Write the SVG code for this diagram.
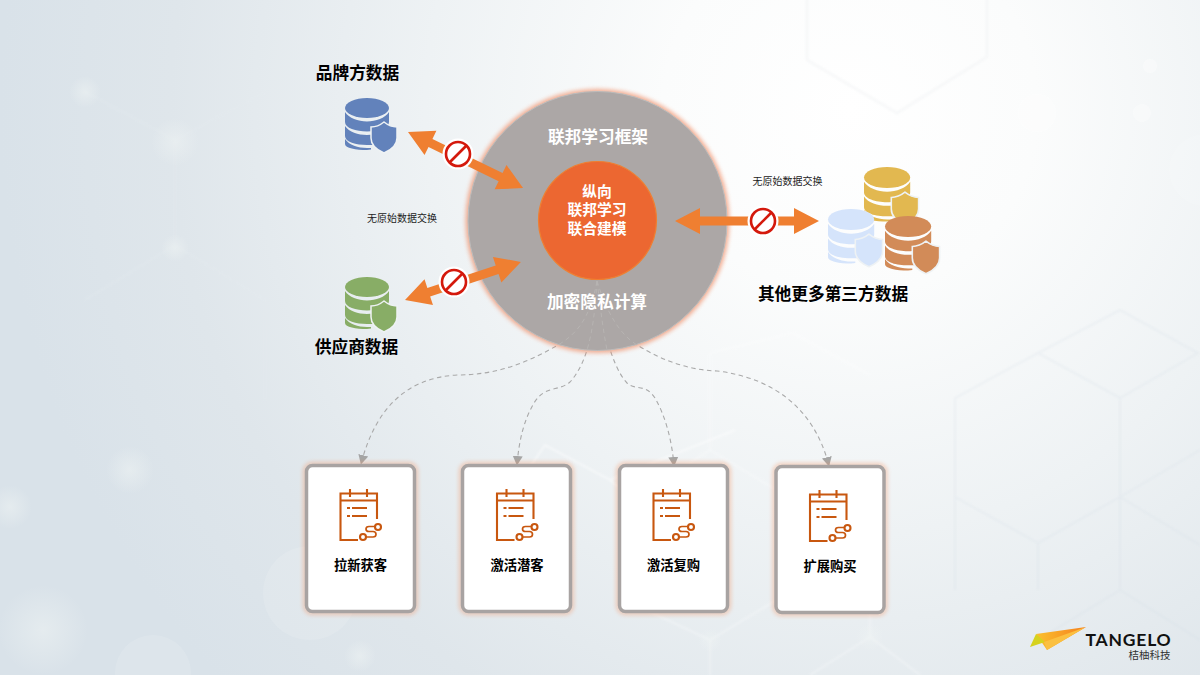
<svg xmlns="http://www.w3.org/2000/svg" width="1200" height="675" viewBox="0 0 1200 675">
<style>
text{font-family:"Liberation Sans","Noto Sans CJK SC",sans-serif;font-weight:700;text-anchor:middle;dominant-baseline:central}
.t17{font-size:16.7px;fill:#000}
.w17{font-size:16.7px;fill:#fff}
.w15{font-size:14.8px;fill:#fff}
.s10{font-size:10px;fill:#222;font-weight:400}
.c13{font-size:13.3px;fill:#000}
.conn{fill:none;stroke:#a9a9a9;stroke-width:1.1;stroke-dasharray:4.5 3.5;marker-end:url(#tip)}
.ic{fill:none;stroke:#c8570f;stroke-width:2.1}
.card{fill:#fff;stroke:#a8a3a2;stroke-width:3.5}
.glow{fill:none;stroke:#f58a55;stroke-width:3.5;opacity:.45;filter:url(#b2)}
.hw{fill:none;stroke:#fff;stroke-width:2;opacity:.28;filter:url(#b1)}
.hb{fill:none;stroke:#cfd9e3;stroke-width:2;opacity:.22;filter:url(#b1)}
.hg{fill:none;stroke:#eef0f2;stroke-width:3;opacity:.4;filter:url(#b1)}
.hl{fill:none;stroke:#e6ecf0;stroke-width:2.5;opacity:.22;filter:url(#b1)}
.arrow{fill:#ef7f31}
.pw{fill:#fff}
.pr{fill:none;stroke:#d4190c;stroke-width:2.6}
</style>
<defs>
<radialGradient id="bg" gradientUnits="userSpaceOnUse" cx="850" cy="110" r="850">
<stop offset="0" stop-color="#ffffff"/><stop offset=".22" stop-color="#fbfcfc"/><stop offset=".5" stop-color="#eef2f4"/><stop offset=".8" stop-color="#dfe6eb"/><stop offset="1" stop-color="#d9e2e9"/>
</radialGradient>
<radialGradient id="spark"><stop offset="0" stop-color="#eef3f3" stop-opacity=".55"/><stop offset="1" stop-color="#eef3f3" stop-opacity="0"/></radialGradient>
<linearGradient id="lg1" x1="0" y1="0" x2="1" y2="0"><stop offset="0" stop-color="#fbc02d"/><stop offset="1" stop-color="#f57f1e"/></linearGradient>
<filter id="b2" x="-20%" y="-20%" width="140%" height="140%"><feGaussianBlur stdDeviation="2"/></filter>
<filter id="b1" x="-5%" y="-5%" width="110%" height="110%"><feGaussianBlur stdDeviation="1"/></filter>
<marker id="tip" markerWidth="10" markerHeight="11" refX="9" refY="5.500" orient="auto" markerUnits="userSpaceOnUse" viewBox="0 0 10 11"><path d="M0 0.500L9.500 5.500L0 10.500Z" fill="#a5a5a5"/></marker>
<g id="db">
<ellipse cx="22" cy="10" rx="22" ry="10"/>
<path d="M0 14C4 20 13 23.500 22 23.500S40 20 44 14V24C44 30 33 33.500 22 33.500S0 30 0 24Z"/>
<path d="M0 28C4 34 13 37 22 37S40 34 44 28V30L28 38V47L22 47C11 47 0 44 0 38Z"/>
<path d="M0 41C4 47 13 50 22 50L26 50V51.500L22 52C11 52 0 50 0 46Z"/>
<path d="M39 24C34 28 30 29 26 29V40C26 47 32 52 39 55C46 52 52 47 52 40V29C48 29 44 28 39 24Z" stroke="#eef2f4" stroke-width="1.500"/>
</g>
<g id="ban"><circle r="15.500" class="pw"/><circle r="12" class="pr"/><path d="M-8.500 8.500L8.500-8.500" class="pr"/></g>
<g id="cal" class="ic">
<path d="M19 51H1.500V4.500H38V30M1.500 11.500H38M11 0V8M28 0V8M13 19H28M13 27H28M8 19H11M8 27H11"/>
<circle cx="24" cy="48" r="3"/><circle cx="39" cy="38" r="3"/>
<path d="M27 48H34C38 48 38 42.500 34 42.500H30C26 42.500 26 37.500 30 37.500H36" stroke-width="1.700"/>
</g>
</defs>

<g id="background">
<rect width="1200" height="675" fill="url(#bg)"/>
<path class="hg" d="M807 60L897 113L987 57V-20M807 60V-20"/>
<path class="hl" d="M85 92L175 140L265 92M175 140V245L85 300M175 245L265 300V400"/>
<path class="hw" d="M710 353L793 333L870 375M710 353V450L793 500M710 450L640 495M710 640L793 590V480M710 640L625 600M710 640V675M870 637L920 675M870 637L810 675M870 637V600"/>
<path class="hw" style="opacity:.45" d="M470 555L545 445L610 480L735 430M610 480L700 555M520 500L470 555"/>
<path class="hb" d="M1120 310L1198 353L1120 398L1038 353ZM1120 398V497L1038 543L955 497V398L1038 353M1120 497L1200 450M1120 497L1200 545M1038 543V590M1120 497V590L1038 640M1120 590L1200 640M955 497L955 590"/>
<g fill="#fff" opacity=".32">
<circle cx="1037" cy="113" r="19"/><circle cx="1142" cy="113" r="9"/><circle cx="1150" cy="66" r="7"/>
</g>
<g fill="#fff" opacity=".12">
<circle cx="1205" cy="170" r="36"/><circle cx="310" cy="593" r="47"/><circle cx="153" cy="673" r="38"/>
</g>
<g fill="url(#spark)">
<circle cx="43" cy="630" r="45"/><circle cx="130" cy="470" r="24"/><circle cx="10" cy="507" r="22"/><circle cx="175" cy="142" r="24"/><circle cx="85" cy="92" r="16"/><circle cx="175" cy="248" r="14"/><circle cx="360" cy="656" r="16"/><circle cx="870" cy="637" r="14"/><circle cx="710" cy="640" r="12"/>
</g>
</g>

<g id="connectors">
<path class="conn" d="M597 281C590 320 575 335 558 345C525 364 495 375 457 375C405 378 375 410 361 464"/>
<path class="conn" d="M597 281C595 320 590 360 570 382C558 392 545 385 534 403C524 420 519 440 517 465"/>
<path class="conn" d="M597 281C600 315 610 365 627 383C636 391 645 383 655 398C665 415 672 440 674 466"/>
<path class="conn" d="M597 281C606 310 618 333 637 345C665 362 690 370 717 371C775 378 815 410 829 466"/>
</g>

<g id="node-circle">
<circle cx="597.500" cy="221" r="132" fill="#f0845a" opacity=".65" filter="url(#b2)"/>
<circle cx="597.500" cy="221" r="129.500" fill="#aca7a6" stroke="#bcbcbc" stroke-width="1"/>
<g stroke="#b7b4b2" stroke-width="1" stroke-dasharray="4.500 3.500" fill="none">
<path d="M597 281C590 320 575 335 558 345"/><path d="M597 281C595 310 593 330 587 350"/><path d="M597 281C600 305 603 330 607 350"/><path d="M597 281C606 310 618 333 637 345"/>
</g>
<text class="w17" x="598" y="137">联邦学习框架</text>
<text class="w17" x="597" y="302">加密隐私计算</text>
</g>
<g id="node-core">
<circle cx="597.500" cy="220.500" r="59" fill="#ec6731" stroke="#ef7f31" stroke-width="1.200"/>
<text class="w15" x="597" y="192">纵向</text>
<text class="w15" x="597" y="210">联邦学习</text>
<text class="w15" x="597" y="229">联合建模</text>
</g>

<g id="arrows">
<polygon class="arrow" transform="translate(408 132) rotate(26)" points="0,0 25,-13.500 25,-4.500 103,-4.500 103,-13.500 128,0 103,13.500 103,4.500 25,4.500 25,13.500"/>
<polygon class="arrow" transform="translate(405 300) rotate(-18.200)" points="0,0 25,-13.500 25,-4.500 97,-4.500 97,-13.500 122,0 97,13.500 97,4.500 25,4.500 25,13.500"/>
<polygon class="arrow" points="675,221 700,208 700,216.500 794,216.500 794,208 819,221 794,234 794,225.500 700,225.500 700,234"/>
<use href="#ban" x="458" y="154"/>
<use href="#ban" x="454" y="282"/>
<use href="#ban" x="763" y="221"/>
</g>

<g id="node-brand"><text class="t17" x="357.500" y="73">品牌方数据</text><use href="#db" transform="translate(345 98)" fill="#6282bb"/></g>
<g id="node-supplier"><use href="#db" transform="translate(345 277)" fill="#88ad66"/><text class="t17" x="356.500" y="347">供应商数据</text></g>
<g id="node-others">
<use href="#db" transform="translate(864 167) scale(1.050)" fill="#e2b850"/>
<use href="#db" transform="translate(828 209) scale(1.050)" fill="#d5e4fb"/>
<use href="#db" transform="translate(885 216) scale(1.050)" fill="#d28b58"/>
<text class="t17" x="833" y="294">其他更多第三方数据</text>
</g>
<text class="s10" id="label-left" x="402" y="218">无原始数据交换</text>
<text class="s10" id="label-right" x="787.500" y="181">无原始数据交换</text>

<g id="node-card1"><rect x="305" y="464" width="111" height="149" rx="7" class="glow"/><rect x="306.500" y="465.500" width="108" height="146" rx="6" class="card"/><use href="#cal" x="339" y="489"/><text class="c13" x="360.500" y="565">拉新获客</text></g>
<g id="node-card2"><rect x="461" y="464" width="111" height="149" rx="7" class="glow"/><rect x="462.500" y="465.500" width="108" height="146" rx="6" class="card"/><use href="#cal" x="495.500" y="489"/><text class="c13" x="517" y="565">激活潜客</text></g>
<g id="node-card3"><rect x="618" y="464" width="111" height="149" rx="7" class="glow"/><rect x="619.500" y="465.500" width="108" height="146" rx="6" class="card"/><use href="#cal" x="652" y="489"/><text class="c13" x="673.500" y="565">激活复购</text></g>
<g id="node-card4"><rect x="774.500" y="465" width="111" height="149" rx="7" class="glow"/><rect x="776" y="466.500" width="108" height="146" rx="6" class="card"/><use href="#cal" x="808.500" y="490"/><text class="c13" x="830" y="566">扩展购买</text></g>

<g id="logo">
<polygon points="1036,634 1086,627 1047,650" fill="url(#lg1)"/>
<polygon points="1036,634 1030,647 1045,642" fill="#d6d21e"/>
<polygon points="1086,627 1047,650 1044,642" fill="#fbc040"/>
<text x="1128.500" y="639" style="font-size:17.500px;letter-spacing:.8px;font-family:'Lato','Liberation Sans',sans-serif;fill:#111">TANGELO</text>
<text x="1149.500" y="655" style="font-size:10.500px;fill:#333;font-weight:400">桔柚科技</text>
</g>
</svg>
